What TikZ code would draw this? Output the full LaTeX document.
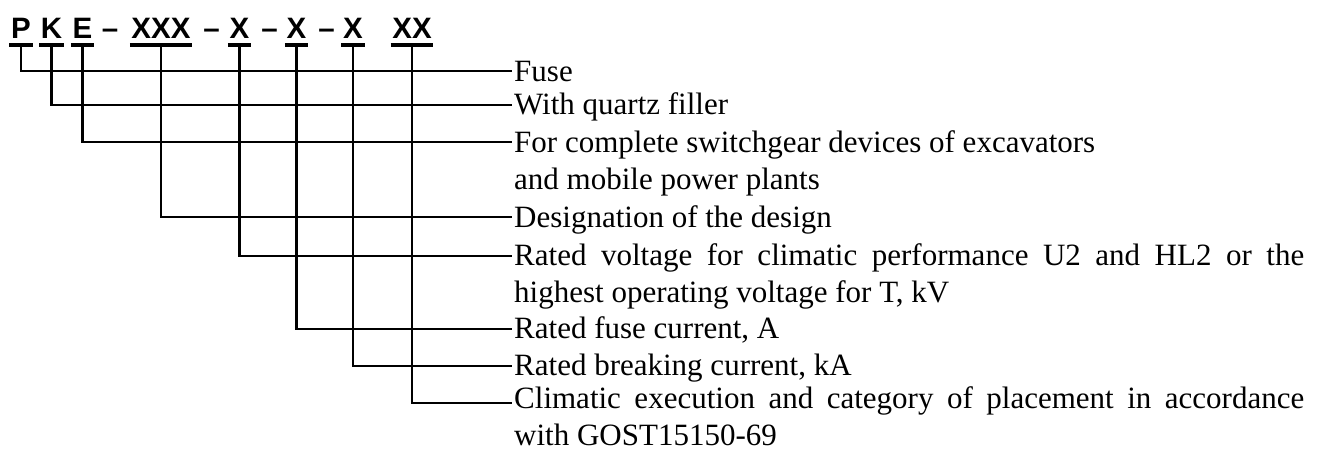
\documentclass[tikz,border=0pt]{standalone}
\usepackage{fontspec}
\setmainfont{Liberation Serif}
\newfontfamily\hdrfont{Liberation Sans}
\begin{document}
\begin{tikzpicture}[x=1pt,y=-1pt,
  code/.style={font=\hdrfont\bfseries\fontsize{29.5}{31}\selectfont, inner sep=0pt, anchor=base},
  uline/.style={line width=3.5pt},
  conn/.style={line width=2.8pt, line join=miter},
  desc/.style={font=\fontsize{31}{37}\selectfont, inner sep=0pt, anchor=base west, align=left}]
\useasboundingbox (0,0) rectangle (1317,450);
% header
\node[code] (p) at (21,38) {P};
\node[code] (k) at (51.5,38) {K};
\node[code] (e) at (82.5,38) {E};
\node[code] (d1) at (110,38) {–};
\node[code] (xxx) at (161,38) {XXX};
\node[code] (d2) at (211.5,38) {–};
\node[code] (xa) at (239.5,38) {X};
\node[code] (d3) at (269.5,38) {–};
\node[code] (xb) at (296.5,38) {X};
\node[code] (d4) at (326.5,38) {–};
\node[code] (xc) at (353,38) {X};
\node[code] (xx) at (412,38) {XX};
\foreach \n in {p,k,e,xxx,xa,xb,xc,xx}{
  \draw[uline] ([xshift=-1.5pt]\n.west |- 0,45) -- ([xshift=1.5pt]\n.east |- 0,45);
}
% line ends
\coordinate (e1) at (512,71);
\coordinate (e2) at (512,105);
\coordinate (e3) at (512,142);
\coordinate (e4) at (512,217);
\coordinate (e5) at (512,256);
\coordinate (e6) at (512,329);
\coordinate (e7) at (512,366);
\coordinate (e8) at (512,403);
% descriptions (base anchor = last line's baseline)
\node[desc] (t1) at (514,81) {Fuse};
\node[desc] (t2) at (514,114) {With quartz filler};
\node[desc] (t3) at (514,189) {For complete switchgear devices of excavators\\and mobile power plants};
\node[desc] (t4) at (514,227) {Designation of the design};
\node[desc] (t5) at (514,302) {\makebox[790pt][s]{Rated voltage for climatic performance U2 and HL2 or the}\\highest operating voltage for T, kV};
\node[desc] (t6) at (514,338) {Rated fuse current, A};
\node[desc] (t7) at (514,375) {Rated breaking current, kA};
\node[desc] (t8) at (514,445) {\makebox[790pt][s]{Climatic execution and category of placement in accordance}\\with GOST15150-69};
% connectors
\draw[conn] (p.base |- 0,45) |- (e1);
\draw[conn] (k.base |- 0,45) |- (e2);
\draw[conn] (e.base |- 0,45) |- (e3);
\draw[conn] (xxx.base |- 0,45) |- (e4);
\draw[conn] (xa.base |- 0,45) |- (e5);
\draw[conn] (xb.base |- 0,45) |- (e6);
\draw[conn] (xc.base |- 0,45) |- (e7);
\draw[conn] (xx.base |- 0,45) |- (e8);
\end{tikzpicture}
\end{document}
